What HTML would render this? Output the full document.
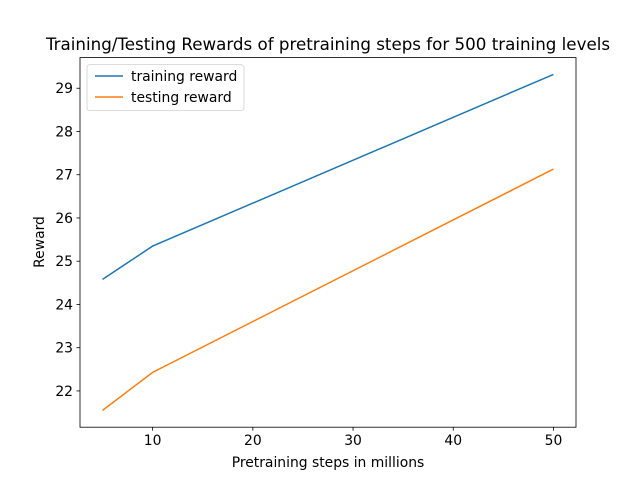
<!DOCTYPE html>
<html><head><meta charset="utf-8"><style>
body{margin:0;background:#fff;}
svg{font-family:"DejaVu Sans","Liberation Sans",sans-serif;}
</style></head><body>
<svg id="chart" width="640" height="480" xmlns="http://www.w3.org/2000/svg">
<rect width="640" height="480" fill="#fff"/>
<text x="328" y="50" font-size="16.7" text-anchor="middle">Training/Testing Rewards of pretraining steps for 500 training levels</text>
<g id="plot"></g>
<rect x="80" y="57.6" width="496" height="369.6" fill="none" stroke="#000" stroke-width="0.8"/>
<text x="328" y="467" font-size="13.9" text-anchor="middle">Pretraining steps in millions</text>
<text transform="translate(44,242) rotate(-90)" font-size="13.9" text-anchor="middle">Reward</text>
<g>
<rect x="87" y="64.6" width="157" height="46" rx="3" fill="#fff" stroke="#ccc" stroke-width="0.8" opacity="0.9"/>
<line x1="95" y1="76" x2="123" y2="76" stroke="#1f77b4" stroke-width="1.5"/>
<text x="131" y="80.8" font-size="13.9">training reward</text>
<line x1="95" y1="97" x2="123" y2="97" stroke="#ff7f0e" stroke-width="1.5"/>
<text x="131" y="101.8" font-size="13.9">testing reward</text>
</g>
</svg>
<script>
const steps = [5, 10, 50];
const trainingReward = [24.58, 25.35, 29.32];
const testingReward = [21.55, 22.43, 27.13];
const xTicks = [10, 20, 30, 40, 50];
const yTicks = [22, 23, 24, 25, 26, 27, 28, 29];

const L=80,R=576,T=57.6,B=427.2;
const all=trainingReward.concat(testingReward);
const xmin=Math.min(...steps),xmax=Math.max(...steps),xm=(xmax-xmin)*0.05;
const ymin=Math.min(...all),ymax=Math.max(...all),ym=(ymax-ymin)*0.05;
const xs=v=>L+(v-(xmin-xm))/((xmax+xm)-(xmin-xm))*(R-L);
const ys=v=>B-(v-(ymin-ym))/((ymax+ym)-(ymin-ym))*(B-T);
const NS="http://www.w3.org/2000/svg";
const g=document.getElementById('plot');
function mk(t,a){const e=document.createElementNS(NS,t);for(const k in a)e.setAttribute(k,a[k]);g.appendChild(e);return e;}
xTicks.forEach(v=>{
  const l=mk('line',{x1:xs(v),x2:xs(v),y1:B,y2:B+3.5,stroke:'#000','stroke-width':0.8});
  
  
  const t=mk('text',{x:xs(v),y:B+18,'font-size':13.9,'text-anchor':'middle'});t.textContent=v;
  
  
});
yTicks.forEach(v=>{
  const l=mk('line',{x1:L-3.5,x2:L,y1:ys(v),y2:ys(v),stroke:'#000','stroke-width':0.8});
  
  
  const t=mk('text',{x:L-7,y:ys(v)+5,'font-size':13.9,'text-anchor':'end'});t.textContent=v;
  
  
});
function line(vals,color,name){
  const p=mk('polyline',{points:steps.map((s,i)=>xs(s)+','+ys(vals[i])).join(' '),fill:'none',stroke:color,'stroke-width':1.5});
  
  
}
line(trainingReward,'#1f77b4','training-reward-line');
line(testingReward,'#ff7f0e','testing-reward-line');
</script>
</body></html>
